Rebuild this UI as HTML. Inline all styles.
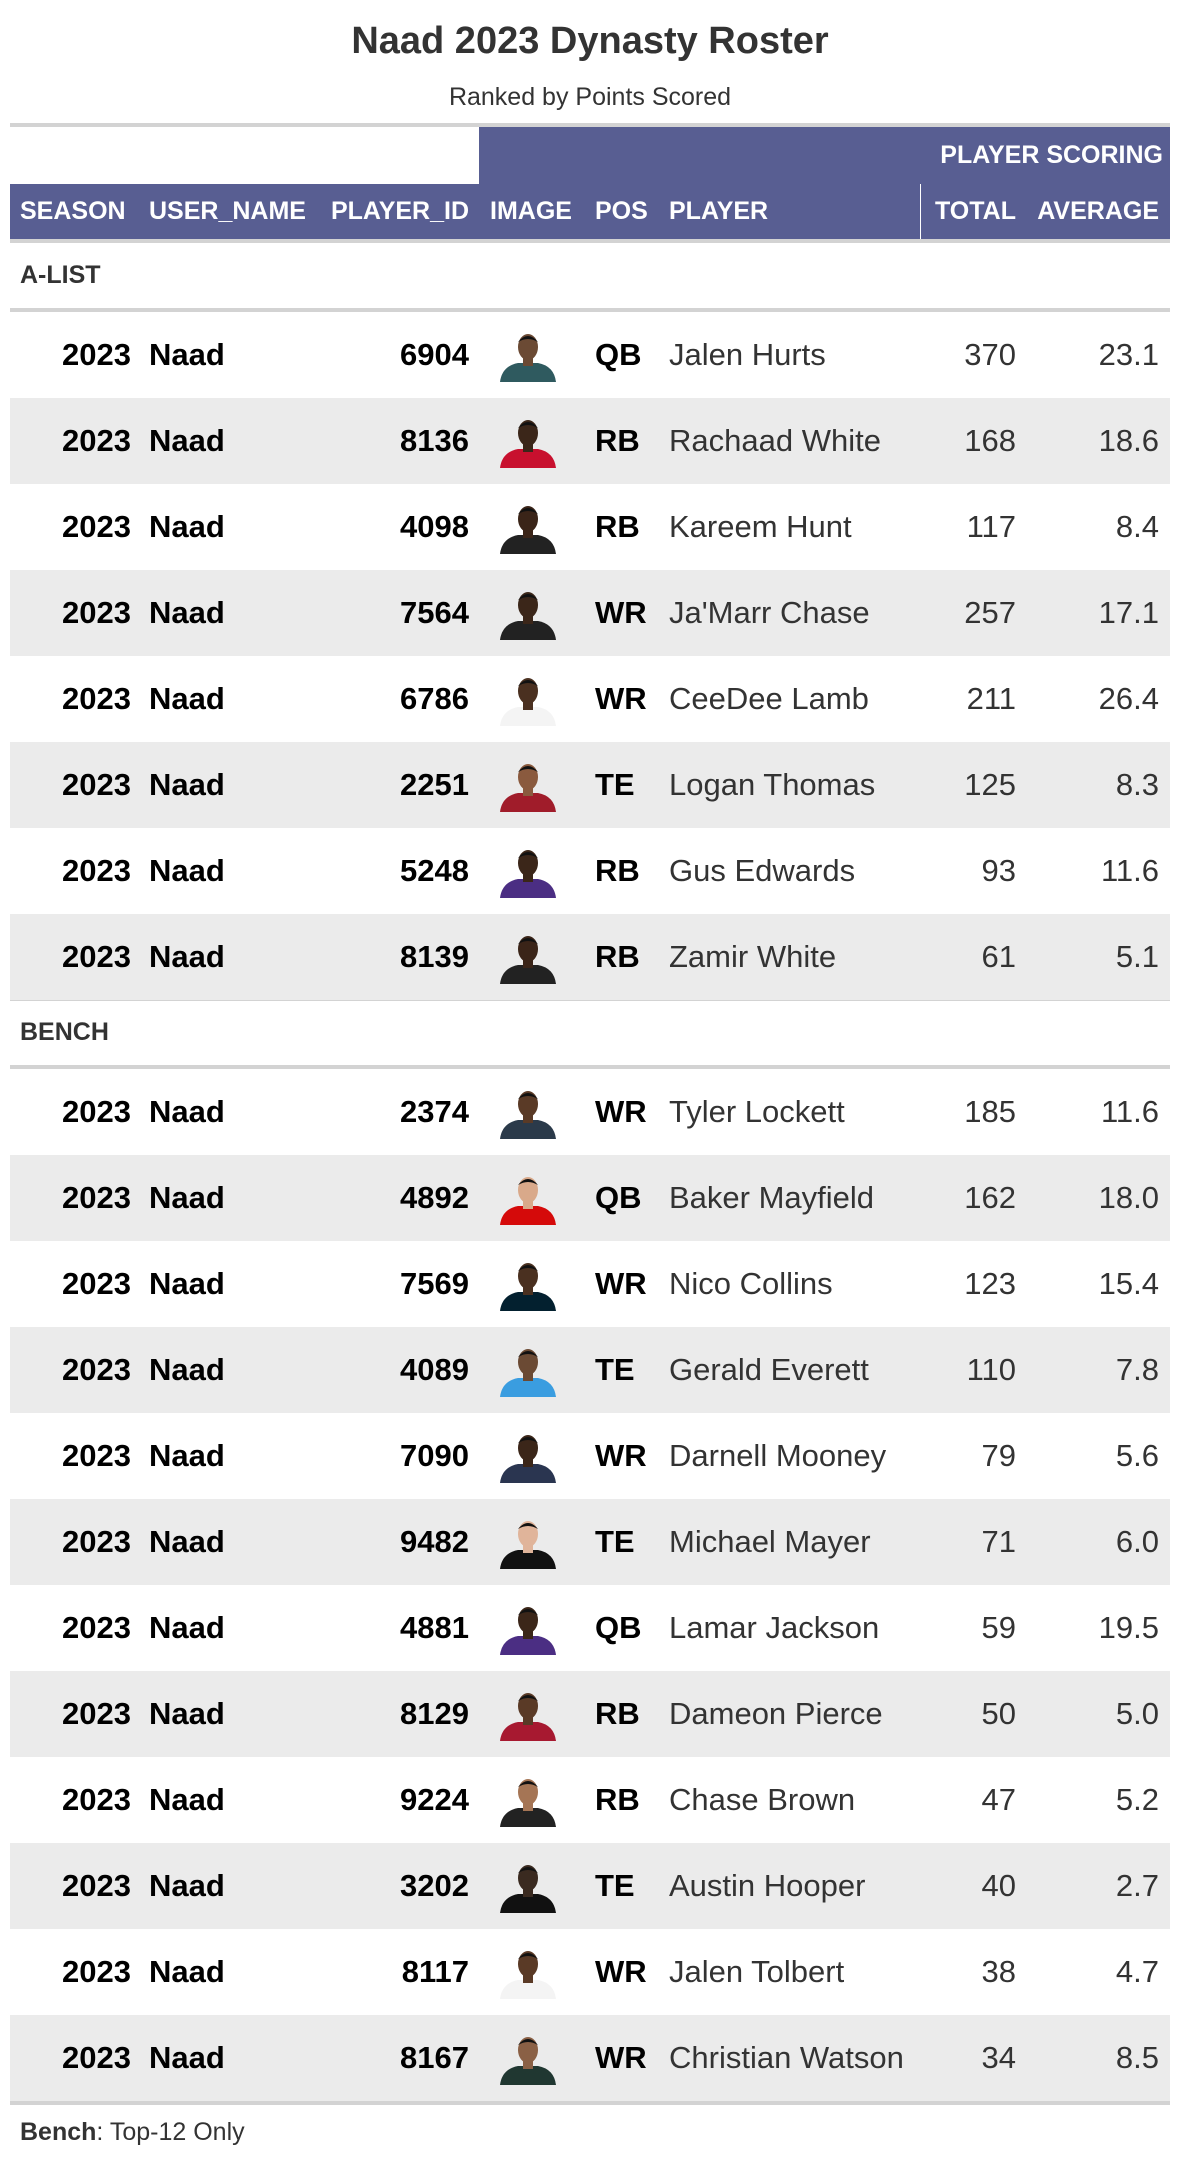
<!DOCTYPE html>
<html><head><meta charset="utf-8"><style>
body{margin:0;width:1180px;height:2166px;background:#fff;position:relative;font-family:"Liberation Sans",Arial,sans-serif;overflow:hidden}
.a{position:absolute;white-space:nowrap}
.hd{color:#fff;font-weight:bold;font-size:25px;line-height:55px;top:184px}
.row{position:absolute;left:10px;width:1160px;height:86px}
.c{position:absolute;line-height:86px;font-size:31px;top:0;white-space:nowrap}
</style></head><body>
<div class="a" style="left:0;width:1180px;text-align:center;top:20px;font-size:38px;font-weight:bold;color:#333">Naad 2023 Dynasty Roster</div>
<div class="a" style="left:0;width:1180px;text-align:center;top:83px;font-size:25px;color:#333">Ranked by Points Scored</div>
<div class="a" style="left:10px;width:1160px;top:123px;height:4px;background:#d3d3d3"></div>
<div class="a" style="left:479px;width:691px;top:127px;height:57px;background:#585e92"></div>
<div class="a" style="right:17px;top:127px;line-height:57px;color:#fff;font-weight:bold;font-size:25px">PLAYER SCORING</div>
<div class="a" style="left:10px;width:1160px;top:184px;height:55px;background:#585e92"></div>
<div class="a" style="left:920px;width:1px;top:184px;height:55px;background:#fff"></div>
<div class="a hd" style="left:20px">SEASON</div>
<div class="a hd" style="left:149px">USER_NAME</div>
<div class="a hd" style="right:711px">PLAYER_ID</div>
<div class="a hd" style="left:490px">IMAGE</div>
<div class="a hd" style="left:595px">POS</div>
<div class="a hd" style="left:669px">PLAYER</div>
<div class="a hd" style="right:164px">TOTAL</div>
<div class="a hd" style="right:21px">AVERAGE</div>
<div class="a" style="left:10px;width:1160px;top:239px;height:4px;background:#d3d3d3"></div>
<div class="a" style="left:20px;top:243px;line-height:65px;font-size:25px;font-weight:bold;color:#333">A-LIST</div>
<div class="a" style="left:10px;width:1160px;top:308px;height:4px;background:#d3d3d3"></div>
<div class="a" style="left:10px;width:1160px;top:999px;height:2px;background:#d3d3d3"></div>
<div class="a" style="left:20px;top:1000px;line-height:65px;font-size:25px;font-weight:bold;color:#333">BENCH</div>
<div class="a" style="left:10px;width:1160px;top:1065px;height:4px;background:#d3d3d3"></div>
<div class="a" style="left:10px;width:1160px;top:2101px;height:4px;background:#d3d3d3"></div>
<div class="a" style="left:20px;top:2118px;font-size:25px;color:#333"><b>Bench</b>: Top-12 Only</div>
<div id="rows"></div>
<script>
const ids=[6904,8136,4098,7564,6786,2251,5248,8139,2374,4892,7569,4089,7090,9482,4881,8129,9224,3202,8117,8167];
const pos=["QB","RB","RB","WR","WR","TE","RB","RB","WR","QB","WR","TE","WR","TE","QB","RB","RB","TE","WR","WR"];
const names=["Jalen Hurts","Rachaad White","Kareem Hunt","Ja'Marr Chase","CeeDee Lamb","Logan Thomas","Gus Edwards","Zamir White","Tyler Lockett","Baker Mayfield","Nico Collins","Gerald Everett","Darnell Mooney","Michael Mayer","Lamar Jackson","Dameon Pierce","Chase Brown","Austin Hooper","Jalen Tolbert","Christian Watson"];
const totals=[370,168,117,257,211,125,93,61,185,162,123,110,79,71,59,50,47,40,38,34];
const avgs=["23.1","18.6","8.4","17.1","26.4","8.3","11.6","5.1","11.6","18.0","15.4","7.8","5.6","6.0","19.5","5.0","5.2","2.7","4.7","8.5"];
const jerseys=["#2f5a5f","#c8102e","#222","#222","#f4f4f4","#a01c2a","#4b2e83","#222","#2b3a4a","#d50a0a","#03202f","#3a9de0","#2a3550","#111","#4b2e83","#a71930","#222","#111","#f4f4f4","#203731"];
const skins=["#6b4a34","#3b2619","#3a2418","#3b2619","#4a3020","#8a5a3e","#3b2619","#3a2418","#5a3a26","#d9a98a","#4a3020","#6b4a34","#3b2619","#e0b49a","#3b2619","#5a3a26","#a57555","#3a2a20","#5a3a26","#8a6045"];
const host=document.getElementById('rows');
for(let i=0;i<ids.length;i++){
  const top=i<8?312+86*i:1069+86*(i-8);
  const k=i<8?i:i-8;
  const r=document.createElement('div');
  r.className='row';
  
  
  r.style.top=top+'px';
  r.style.background=k%2?'#ebebeb':'transparent';
  r.innerHTML=
   '<div class="c" style="right:1039px;font-weight:bold;color:#000">2023</div>'+
   '<div class="c" style="left:139px;font-weight:bold;color:#000">Naad</div>'+
   '<div class="c" style="right:701px;font-weight:bold;color:#000">'+ids[i]+'</div>'+
   '<svg style="position:absolute;left:486px;top:18px" width="64" height="52" viewBox="0 0 64 52"><path d="M4 52 Q6 36 22 33 L42 33 Q58 36 60 52 Z" fill="'+jerseys[i]+'"/><rect x="27" y="26" width="10" height="10" fill="'+skins[i]+'"/><ellipse cx="32" cy="17" rx="10" ry="13" fill="'+skins[i]+'"/><path d="M22 12 Q32 0 42 12 Q32 6 22 12Z" fill="#111"/></svg>'+
   '<div class="c" style="left:585px;font-weight:bold;color:#000">'+pos[i]+'</div>'+
   '<div class="c" style="left:659px;color:#333">'+names[i]+'</div>'+
   '<div class="c" style="right:154px;color:#333">'+totals[i]+'</div>'+
   '<div class="c" style="right:11px;color:#333">'+avgs[i]+'</div>';
  host.appendChild(r);
}
</script>
</body></html>
